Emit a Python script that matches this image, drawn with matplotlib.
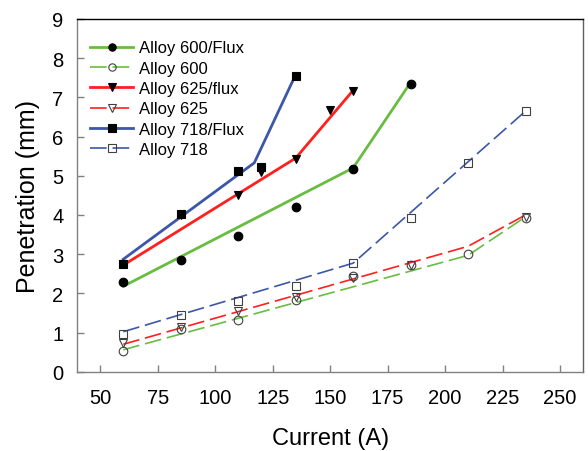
import matplotlib
matplotlib.use("Agg")
from matplotlib import pyplot as plt

plt.rcParams['font.family'] = ['Liberation Sans', 'DejaVu Sans']

# measured points (markers)
x600f = [60, 85, 110, 135, 160, 185]
y600f = [2.28, 2.84, 3.47, 4.21, 5.17, 7.35]
x600 = [60, 85, 110, 135, 160, 185, 210, 235]
y600 = [0.54, 1.10, 1.32, 1.82, 2.43, 2.72, 3.00, 3.93]
x625f = [60, 85, 110, 120, 135, 150, 160]
y625f = [2.75, 4.00, 4.50, 5.09, 5.43, 6.69, 7.15]
x625 = [60, 85, 110, 135, 160, 185, 235]
y625 = [0.72, 1.13, 1.54, 1.90, 2.38, 2.72, 3.95]
x718f = [60, 85, 110, 120, 135]
y718f = [2.75, 4.02, 5.11, 5.22, 7.55]
x718 = [60, 85, 110, 135, 160, 185, 210, 235]
y718 = [0.96, 1.45, 1.80, 2.19, 2.77, 3.92, 5.33, 6.64]

# trend lines
lx600f = [60, 160, 185]
ly600f = [2.18, 5.20, 7.38]
lx600 = [60, 210, 235]
ly600 = [0.56, 2.97, 3.95]
lx625f = [60, 135, 160]
ly625f = [2.72, 5.45, 7.18]
lx625 = [60, 210, 235]
ly625 = [0.70, 3.20, 4.00]
lx718f = [60, 117, 135]
ly718f = [2.87, 5.33, 7.58]
lx718 = [60, 160, 235]
ly718 = [1.02, 2.77, 6.65]

labels = ['Alloy 600/Flux', 'Alloy 600', 'Alloy 625/flux', 'Alloy 625',
          'Alloy 718/Flux', 'Alloy 718']

green = '#68bd40'
red = '#ff1f1f'
blue = '#3c56a8'
dash = (0, (10, 3.5))

fig = plt.figure(figsize=(5.88, 4.52), dpi=100)
ax = fig.add_axes([0.1315, 0.1754, 0.86, 0.7804])

series = [
    (lx600f, ly600f, x600f, y600f, green, '-', 'o', 'black'),
    (lx600, ly600, x600, y600, green, dash, 'o', 'none'),
    (lx625f, ly625f, x625f, y625f, red, '-', 'v', 'black'),
    (lx625, ly625, x625, y625, red, dash, 'v', 'none'),
    (lx718f, ly718f, x718f, y718f, blue, '-', 's', 'black'),
    (lx718, ly718, x718, y718, blue, dash, 's', 'none'),
]

handles = []
for lx, ly, px, py, col, ls, mk, face in series:
    lw = 2.0 if ls == '-' else 1.2
    ln, = ax.plot(lx, ly, color=col, linestyle=ls, linewidth=lw, zorder=2)
    edge = 'black' if face == 'black' else '#404040'
    pt, = ax.plot(px, py, linestyle='none', marker=mk, markersize=6.2,
                  markerfacecolor=face, markeredgecolor=edge,
                  markeredgewidth=0.8, zorder=3)
    handles.append((ln, pt))

ax.set_xlim(40, 260)
ax.set_ylim(0, 9)
ax.set_xticks([50, 75, 100, 125, 150, 175, 200, 225, 250])
ax.set_yticks(range(10))
ax.tick_params(direction='in', color='#808080', length=5, labelsize=14.5,
               width=1)
ax.tick_params(axis='x', pad=12)
ax.tick_params(axis='y', pad=10)
ax.set_xlabel('Current (A)', fontsize=17, labelpad=14)
ax.set_ylabel('Penetration (mm)', fontsize=18, labelpad=9)

ax.spines['top'].set_color('black')
ax.spines['right'].set_color('#606060')
ax.spines['left'].set_color('#808080')
ax.spines['bottom'].set_color('#808080')
for s in ax.spines.values():
    s.set_linewidth(1.0)

ax.legend(handles, labels, loc='upper left', frameon=False, fontsize=12,
          handlelength=2.6, handletextpad=0.36, labelspacing=0.32,
          borderaxespad=0.36, bbox_to_anchor=(0.0, 0.975), markerscale=0.85)

fig.savefig('out.png', dpi=100)
